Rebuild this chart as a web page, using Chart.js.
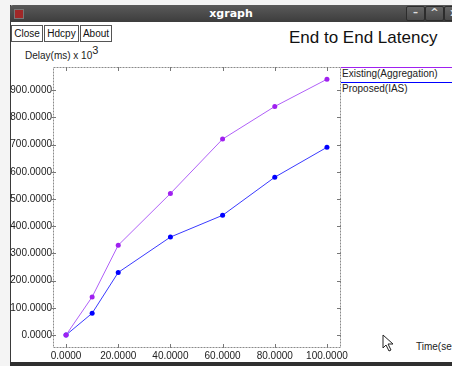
<!DOCTYPE html>
<html lang="en">
<head>
  <meta charset="UTF-8">
  <title>xgraph</title>
  <script src="https://cdn.jsdelivr.net/npm/chart.js"></script>
  <style>
    body {
      margin: 0;
      width: 452px;
      height: 366px;
      overflow: hidden;
      background: #f4f4f4;
      font-family: "Liberation Sans", Arial, sans-serif;
      position: relative;
    }
    #win {
      position: absolute;
      left: 10px; top: 5px;
      width: 442px; height: 361px;
      background: #fff;
      border-left: 1px solid #3a3a3a;
      box-sizing: border-box;
    }
    #titlebar {
      position: absolute;
      left: 10px; top: 5px;
      width: 442px; height: 17px;
      background: linear-gradient(#5a5a5a, #3d3d3d);
      color: #fff;
      font: bold 11px "DejaVu Sans", sans-serif;
      text-align: center;
      line-height: 17px;
      border-radius: 3px 0 0 0;
    }
    #icon {
      position: absolute; left: 4px; top: 4px;
      width: 8px; height: 8px;
      background: #a02828; border: 1px solid #777;
    }
    .wbtn {
      position: absolute; top: 1px;
      width: 17px; height: 13px;
      border: 1px solid #2c2c2c; border-radius: 2px;
      background: linear-gradient(#666, #4a4a4a);
      color: #ddd; font: bold 10px "DejaVu Sans"; line-height: 12px;
    }
    #bottombar {
      position: absolute; left: 10px; top: 362px;
      width: 442px; height: 4px; background: #2f2f2f;
    }
    .btn {
      position: absolute; top: 25px;
      height: 15px;
      border: 1px solid #555;
      background: #fff;
      font-size: 10px;
      line-height: 15px;
      text-align: center;
      color: #111;
    }
    #title {
      position: absolute; left: 289px; top: 28px;
      font-size: 17px; color: #111; white-space: nowrap;
    }
    #ylab {
      position: absolute; left: 25px; top: 45px;
      font-size: 10px; color: #222; white-space: nowrap;
    }
    #ylab sup { font-size: 11px; position: relative; top: -1px; }
    #xlab {
      position: absolute; left: 416px; top: 341px;
      font-size: 10px; color: #222; white-space: nowrap;
    }
    .leg {
      position: absolute; left: 341px;
      width: 111px;
      font-size: 10px; color: #222; white-space: nowrap;
      padding-left: 1px;
      line-height: 12px;
    }
    canvas#chart { position: absolute; left: 0; top: 0; }
    #cursor { position: absolute; left: 382px; top: 334px; }
  </style>
</head>
<body>
  <div id="win"></div>
  <div id="titlebar">xgraph
    <div id="icon"></div>
    <div class="wbtn" style="left:396px">&#8211;</div>
    <div class="wbtn" style="left:415px">^</div>
    <div class="wbtn" style="left:434px">x</div>
  </div>
  <div id="bottombar"></div>

  <div class="btn" style="left:11px;width:30px">Close</div>
  <div class="btn" style="left:44px;width:33px">Hdcpy</div>
  <div class="btn" style="left:80px;width:30px">About</div>
  <div id="title">End to End Latency</div>
  <div id="ylab">Delay(ms) x 10<sup>3</sup></div>
  <div id="xlab">Time(se</div>

  <div class="leg" style="top:67px;border-top:1px solid #a020f0">Existing(Aggregation)</div>
  <div class="leg" style="top:82px;border-top:1px solid #0000ff">Proposed(IAS)</div>

  <svg id="cursor" width="14" height="18">
    <polygon points="1,1 1,14 4,11 7,17 9,16 6,10 11,10" fill="#fff" stroke="#222" stroke-width="1"/>
  </svg>

  <canvas id="chart" width="452" height="366"></canvas>

  <script>
    const times = [0, 10, 20, 40, 60, 80, 100];
    const existing = [0, 140, 330, 520, 720, 840, 940];
    const proposed = [0, 80, 230, 360, 440, 580, 690];
    const xTicks = [0, 20, 40, 60, 80, 100];
    const yTicks = [0, 100, 200, 300, 400, 500, 600, 700, 800, 900];

    const toPoints = vals => vals.map((v, i) => ({ x: times[i], y: v }));

    // dashed frame + tick marks on all four sides, like xgraph
    const framePlugin = {
      id: 'frame',
      afterDraw(chart) {
        const { ctx, chartArea: a, scales } = chart;
        ctx.save();
        ctx.strokeStyle = '#8a8a8a';
        ctx.lineWidth = 1;
        ctx.setLineDash([2, 1]);
        ctx.strokeRect(a.left + 0.5, a.top + 0.5, a.right - a.left, a.bottom - a.top);
        ctx.setLineDash([]);
        ctx.strokeStyle = '#777';
        ctx.beginPath();
        yTicks.forEach(v => {
          const y = Math.round(scales.y.getPixelForValue(v)) + 0.5;
          ctx.moveTo(a.left - 2, y); ctx.lineTo(a.left + 3, y);
          ctx.moveTo(a.right - 3, y); ctx.lineTo(a.right + 1, y);
        });
        xTicks.forEach(v => {
          const x = Math.round(scales.x.getPixelForValue(v)) + 0.5;
          ctx.moveTo(x, a.top); ctx.lineTo(x, a.top + 4);
          ctx.moveTo(x, a.bottom + 1); ctx.lineTo(x, a.bottom - 3);
        });
        ctx.stroke();
        ctx.restore();
      }
    };

    const tickFont = { family: 'Liberation Sans', size: 10 };

    new Chart(document.getElementById('chart'), {
      type: 'line',
      data: {
        datasets: [
          {
            label: 'Existing(Aggregation)',
            data: toPoints(existing),
            borderColor: '#b060f8',
            backgroundColor: '#a020f0',
            borderWidth: 1,
            pointRadius: 2.5,
            pointBorderWidth: 0
          },
          {
            label: 'Proposed(IAS)',
            data: toPoints(proposed),
            borderColor: '#3a3aff',
            backgroundColor: '#0000ff',
            borderWidth: 1,
            pointRadius: 2.5,
            pointBorderWidth: 0
          }
        ]
      },
      options: {
        responsive: false,
        animation: false,
        layout: { padding: { left: 0, top: 67, right: 112, bottom: 0 } },
        plugins: { legend: { display: false }, tooltip: { enabled: false } },
        scales: {
          x: {
            type: 'linear',
            min: -5,
            max: 105,
            grid: { display: false, drawTicks: false },
            border: { display: false },
            afterBuildTicks: s => { s.ticks = xTicks.map(v => ({ value: v })); },
            afterFit: s => { s.height = 19; },
            ticks: {
              padding: 3,
              color: '#222',
              font: tickFont,
              maxRotation: 0,
              autoSkip: false,
              callback: v => v.toFixed(4)
            }
          },
          y: {
            min: -44,
            max: 985,
            grid: { display: false, drawTicks: false },
            border: { display: false },
            afterBuildTicks: s => { s.ticks = yTicks.map(v => ({ value: v })); },
            afterFit: s => { s.width = 53; },
            ticks: {
              padding: 1,
              color: '#222',
              font: tickFont,
              autoSkip: false,
              callback: v => v.toFixed(4)
            }
          }
        }
      },
      plugins: [framePlugin]
    });
  </script>
</body>
</html>
